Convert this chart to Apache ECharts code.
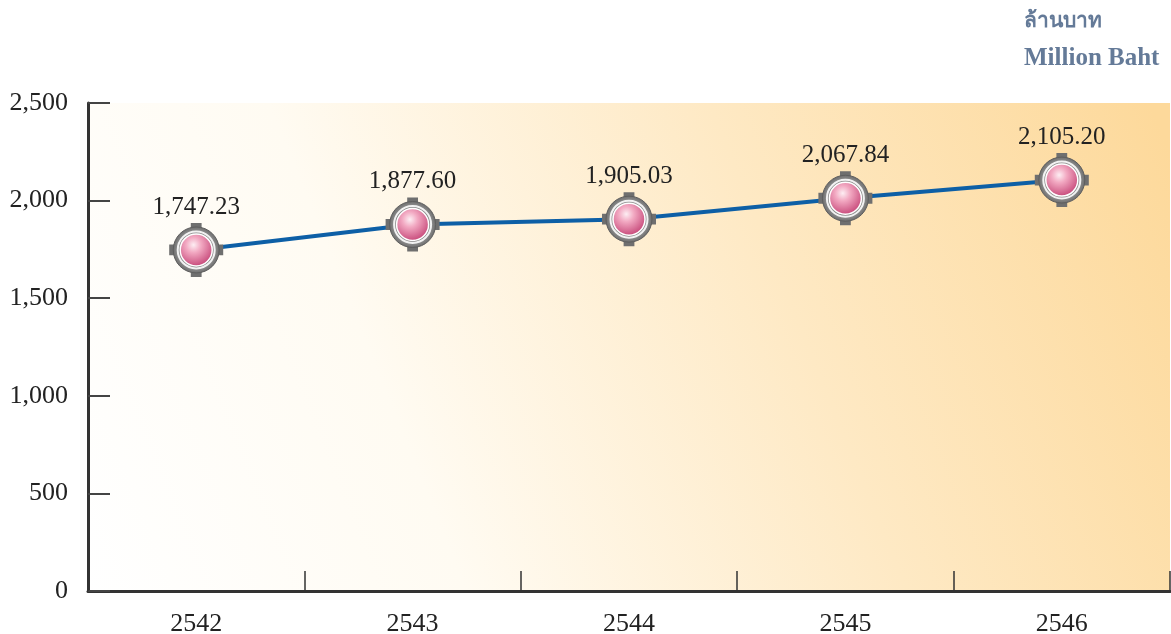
<!DOCTYPE html>
<html>
<head>
<meta charset="utf-8">
<script src="https://cdn.jsdelivr.net/npm/echarts@6/dist/echarts.min.js"></script>
<style>
  html, body { margin: 0; padding: 0; background: #fff; }
  #main { width: 1171px; height: 634px; }
</style>
</head>
<body>
<div id="main"></div>
<script>
// 年份 (พ.ศ.)
var years = ['2542', '2543', '2544', '2545', '2546']
// 点的位置 (读自图上)
var values = [1747.23, 1877.60, 1905.03, 2012, 2105.20]
// 点上的数值标签
var valueLabels = ['1,747.23', '1,877.60', '1,905.03', '2,067.84', '2,105.20']
var yTicks = [0, 500, 1000, 1500, 2000, 2500]

var serif = '"Liberation Serif", "DejaVu Serif", serif'
var myChart = echarts.init(document.getElementById('main'))

var option = {
  animation: false,
  title: [
    {
      text: 'ล้านบาท',
      left: 1019,
      top: 6,
      textStyle: { color: '#647a98', fontSize: 21, fontWeight: 'bold', fontFamily: '"Noto Sans", sans-serif' }
    },
    {
      text: 'Million Baht',
      left: 1019,
      top: 41,
      textStyle: { color: '#647a98', fontSize: 25, fontWeight: 'bold', fontFamily: serif }
    }
  ],
  grid: {
    left: 88, right: 1, top: 103, bottom: 43,
    outerBoundsMode: 'none',
    show: true,
    borderWidth: 0,
    backgroundColor: new echarts.graphic.LinearGradient(0, 1, 1, 0.1, [
      { offset: 0, color: '#ffffff' },
      { offset: 0.3, color: '#fffbf2' },
      { offset: 0.65, color: '#fee9c4' },
      { offset: 1, color: '#fdd99b' }
    ])
  },
  xAxis: {
    type: 'category',
    data: years,
    boundaryGap: true,
    axisLine: { lineStyle: { color: '#333', width: 3 } },
    axisTick: { show: true, inside: true, length: 20, interval: 0, lineStyle: { color: '#333', width: 1.5 } },
    axisLabel: { color: '#222', fontSize: 26, fontFamily: serif, margin: 20 }
  },
  yAxis: {
    type: 'value',
    min: yTicks[0],
    max: yTicks[yTicks.length - 1],
    interval: 500,
    axisLine: { show: true, lineStyle: { color: '#333', width: 3 } },
    axisTick: { show: true, inside: true, length: 22, lineStyle: { color: '#444', width: 2 } },
    splitLine: { show: false },
    axisLabel: {
      color: '#222', fontSize: 26, fontFamily: serif, margin: 20,
      formatter: function (v) { return v.toLocaleString('en-US') }
    }
  },
  series: [
    {
      type: 'line',
      data: values,
      symbol: 'none',
      z: 2,
      lineStyle: { color: '#0d5fa6', width: 4 }
    },
    {
      // 四个小凸块
      type: 'scatter',
      data: values,
      z: 3,
      symbol: 'path://M20,0 H30 V20 H50 V30 H30 V50 H20 V30 H0 V20 H20 Z',
      symbolSize: 54,
      itemStyle: { color: '#6f6f6f', opacity: 1 }
    },
    {
      // 灰色外圈
      type: 'scatter',
      data: values,
      z: 4,
      symbol: 'circle',
      symbolSize: 46,
      itemStyle: {
        opacity: 1,
        color: new echarts.graphic.RadialGradient(0.5, 0.5, 0.5, [
          { offset: 0, color: '#b5b5b5' },
          { offset: 0.8, color: '#8e8e8e' },
          { offset: 1, color: '#6a6a6a' }
        ]),
        borderColor: '#5e5e5e',
        borderWidth: 1
      },
      label: {
        show: true,
        position: 'top',
        distance: 7,
        color: '#222',
        fontSize: 25,
        fontFamily: serif,
        formatter: function (p) { return valueLabels[p.dataIndex] }
      }
    },
    {
      // 白色内圈
      type: 'scatter',
      data: values,
      z: 5,
      symbol: 'circle',
      symbolSize: 37,
      itemStyle: { opacity: 1, color: '#8a8a8a', borderColor: '#f2f2f2', borderWidth: 2 }
    },
    {
      // 粉色球
      type: 'scatter',
      data: values,
      z: 6,
      symbol: 'circle',
      symbolSize: 32,
      itemStyle: {
        opacity: 1,
        color: new echarts.graphic.RadialGradient(0.42, 0.35, 0.65, [
          { offset: 0, color: '#fdeef3' },
          { offset: 0.35, color: '#f2a9c2' },
          { offset: 1, color: '#c7497a' }
        ]),
        borderColor: '#ffffff',
        borderWidth: 1.5
      }
    }
  ]
}
myChart.setOption(option)
</script>
</body>
</html>
